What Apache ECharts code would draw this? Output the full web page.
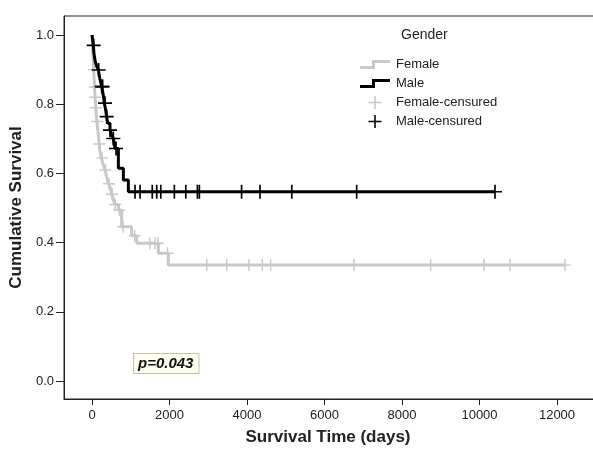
<!DOCTYPE html>
<html>
<head>
<meta charset="utf-8">
<script src="https://cdn.jsdelivr.net/npm/echarts@6/dist/echarts.min.js"></script>
<style>
  html, body { margin: 0; padding: 0; background: #fff; }
  #km_chart { width: 593px; height: 451px; }
</style>
</head>
<body>
<div id="km_chart"></div>
<script>
// Kaplan-Meier step points (days, cumulative survival)
var femaleTime = [0, 15, 30, 45, 55, 65, 80, 95, 110, 125, 145, 165, 185, 206, 240, 290, 335, 380, 430, 465, 510, 550, 594, 680, 765, 1023, 1153, 1712, 1970, 12206];
var femaleSurv = [1.0, 0.96, 0.93, 0.90, 0.87, 0.85, 0.82, 0.79, 0.77, 0.75, 0.73, 0.71, 0.685, 0.66, 0.645, 0.625, 0.61, 0.59, 0.57, 0.56, 0.54, 0.523, 0.51, 0.494, 0.446, 0.42, 0.398, 0.369, 0.335, 0.335];

var maleTime = [0, 34, 50, 80, 120, 163, 200, 250, 290, 318, 350, 378, 404, 464, 500, 550, 594, 680, 809, 938, 10400];
var maleSurv = [1.0, 0.97, 0.947, 0.925, 0.91, 0.899, 0.875, 0.851, 0.827, 0.803, 0.785, 0.764, 0.745, 0.725, 0.713, 0.701, 0.672, 0.615, 0.581, 0.547, 0.547];

// censored observations
var femaleCensorTime = [50, 70, 85, 100, 140, 190, 260, 350, 440, 520, 600, 700, 800, 1100, 1497, 1626, 1700, 1950, 2960, 3475, 4050, 4395, 4610, 6760, 8740, 10115, 10785, 12206];
var femaleCensorSurv = [0.90, 0.85, 0.82, 0.79, 0.75, 0.685, 0.645, 0.61, 0.57, 0.54, 0.51, 0.494, 0.446, 0.42, 0.398, 0.398, 0.398, 0.369, 0.335, 0.335, 0.335, 0.335, 0.335, 0.335, 0.335, 0.335, 0.335, 0.335];

var maleCensorTime = [43, 172, 250, 275, 335, 378, 464, 550, 620, 1110, 1240, 1555, 1670, 1775, 2125, 2420, 2720, 2770, 3860, 4335, 5155, 6830, 10400];
var maleCensorSurv = [0.97, 0.899, 0.851, 0.851, 0.803, 0.764, 0.725, 0.701, 0.672, 0.547, 0.547, 0.547, 0.547, 0.547, 0.547, 0.547, 0.547, 0.547, 0.547, 0.547, 0.547, 0.547, 0.547];

var xTicks = [0, 2000, 4000, 6000, 8000, 10000, 12000];
var yTicks = [0, 0.2, 0.4, 0.6, 0.8, 1.0];

function pairs(xs, ys) {
    var list = [];
    for (var i = 0; i < xs.length; i++) {
        list.push([xs[i], ys[i]]);
    }
    return list;
}

var femaleColor = '#c8c8c8';
var maleColor = '#000000';
var font = 'Liberation Sans, Arial, sans-serif';
var plusIcon = 'path://M4.4,0H5.6V4.4H10V5.6H5.6V10H4.4V5.6H0V4.4H4.4Z';
var stepIcon = 'path://M0,6L12,6L12,0L30,0L30,3L15,3L15,9L0,9Z';

var kmChart = echarts.init(document.getElementById('km_chart'));

var kmChartOptions = {
    animation: false,
    grid: {
        left: 64,
        top: 16,
        width: 540,
        height: 383,
        outerBoundsMode: 'none',
        show: true,
        borderColor: '#222',
        borderWidth: 1
    },
    title: {
        text: 'Gender',
        left: 396,
        top: 23,
        textStyle: { fontFamily: font, fontSize: 14, fontWeight: 'normal', color: '#222' }
    },
    legend: {
        orient: 'vertical',
        left: 355,
        top: 53,
        itemWidth: 30,
        itemHeight: 13,
        itemGap: 6,
        selectedMode: false,
        textStyle: { fontFamily: font, fontSize: 13, color: '#222', padding: [0, 0, 0, 1] },
        data: [
            { name: 'Female', icon: stepIcon },
            { name: 'Male', icon: stepIcon },
            { name: 'Female-censured', icon: plusIcon },
            { name: 'Male-censured', icon: plusIcon }
        ]
    },
    xAxis: {
        type: 'value',
        min: -723,
        max: 13213,
        name: 'Survival Time (days)',
        nameLocation: 'middle',
        nameGap: 30,
        nameTextStyle: { fontFamily: font, fontSize: 17, fontWeight: 'bold', color: '#222', padding: [0, 12, 0, 0] },
        axisLine: { onZero: false, lineStyle: { color: '#222', width: 1 } },
        axisTick: { length: 6, customValues: xTicks, lineStyle: { color: '#222' } },
        axisLabel: {
            customValues: xTicks, margin: 10, fontFamily: font, fontSize: 13, color: '#222',
            formatter: function (value) { return String(value); }
        },
        splitLine: { show: false }
    },
    yAxis: {
        type: 'value',
        min: -0.052,
        max: 1.055,
        name: 'Cumulative Survival',
        nameLocation: 'middle',
        nameGap: 30,
        nameTextStyle: { fontFamily: font, fontSize: 17, fontWeight: 'bold', color: '#222' },
        axisLine: { show: true, onZero: false, lineStyle: { color: '#222', width: 1 } },
        axisTick: { show: true, length: 8, customValues: yTicks, lineStyle: { color: '#222' } },
        axisLabel: {
            customValues: yTicks, margin: 10, fontFamily: font, fontSize: 13, color: '#222',
            formatter: function (value) { return value.toFixed(1); }
        },
        splitLine: { show: false }
    },
    series: [
        {
            name: 'Female',
            type: 'line',
            step: 'end',
            z: 2,
            color: femaleColor,
            itemStyle: { color: femaleColor },
            lineStyle: { color: femaleColor, width: 3 },
            showSymbol: false,
            data: pairs(femaleTime, femaleSurv)
        },
        {
            name: 'Male',
            type: 'line',
            step: 'end',
            z: 4,
            color: maleColor,
            itemStyle: { color: maleColor },
            lineStyle: { color: maleColor, width: 3 },
            showSymbol: false,
            data: pairs(maleTime, maleSurv)
        },
        {
            name: 'Female-censured',
            type: 'scatter',
            z: 3,
            symbol: plusIcon,
            symbolSize: 12,
            itemStyle: { color: femaleColor, opacity: 1 },
            data: pairs(femaleCensorTime, femaleCensorSurv)
        },
        {
            name: 'Male-censured',
            type: 'scatter',
            z: 5,
            symbol: plusIcon,
            symbolSize: 14,
            itemStyle: { color: maleColor, opacity: 1 },
            data: pairs(maleCensorTime, maleCensorSurv)
        }
    ],
    graphic: [
        {
            type: 'text',
            left: 133,
            top: 353,
            style: {
                text: 'p=0.043',
                font: 'italic bold 15px Liberation Sans, Arial, sans-serif',
                fill: '#111',
                backgroundColor: '#fffff4',
                borderColor: '#c4c49a',
                borderWidth: 1,
                padding: [2, 5, 2, 4]
            }
        }
    ]
};
kmChart.setOption(kmChartOptions);
</script>
</body>
</html>
